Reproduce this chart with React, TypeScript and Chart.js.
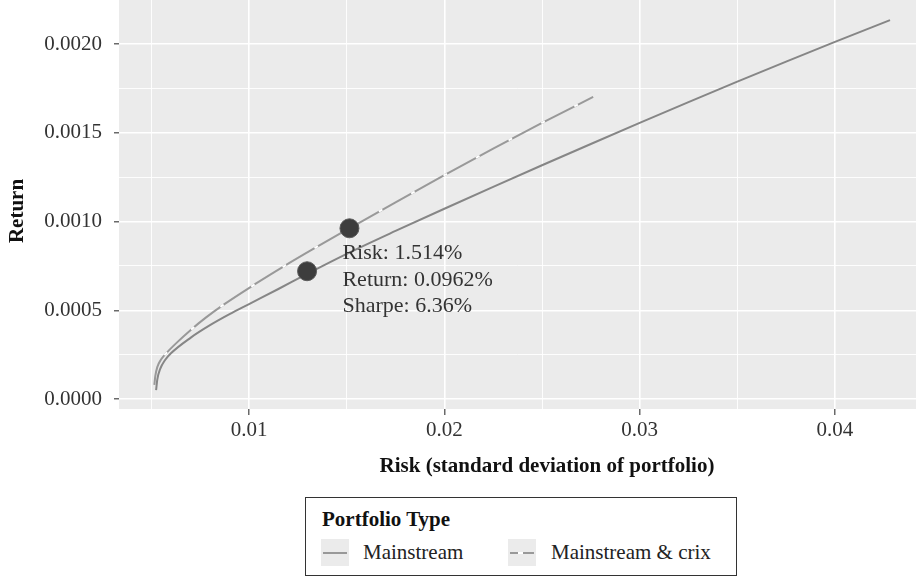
import React, { useEffect, useRef } from 'react';
import { Chart, registerables } from 'chart.js';

Chart.register(...registerables);

// ---- data ----
const mainstreamRisk = [0.00524, 0.0053, 0.00545, 0.0057, 0.006, 0.007, 0.008, 0.009, 0.01, 0.0115, 0.01297, 0.015, 0.0175, 0.02, 0.0225, 0.025, 0.0275, 0.03, 0.0325, 0.035, 0.0375, 0.04, 0.04282];
const mainstreamReturn = [0.00005, 0.00011, 0.00017, 0.00022, 0.000258, 0.000345, 0.000416, 0.000478, 0.000535, 0.00062, 0.000705, 0.000818, 0.000947, 0.001072, 0.001195, 0.001317, 0.001437, 0.001556, 0.001673, 0.001788, 0.001901, 0.002012, 0.002135];

const crixRisk = [0.00515, 0.0052, 0.0053, 0.0055, 0.0058, 0.0063, 0.007, 0.0078, 0.0087, 0.0103, 0.0118, 0.0132, 0.01514, 0.0175, 0.02, 0.0225, 0.025, 0.02762];
const crixReturn = [0.00008, 0.00013, 0.00018, 0.000224, 0.000263, 0.000318, 0.000388, 0.00046, 0.000532, 0.000647, 0.000749, 0.00084, 0.000962, 0.001108, 0.001261, 0.001411, 0.001556, 0.001702];

const optimalRisk = [0.01297, 0.01514];
const optimalReturn = [0.00072, 0.000962];

const annotationLines = ['Risk: 1.514%', 'Return: 0.0962%', 'Sharpe: 6.36%'];

const seriesNames = ['Mainstream', 'Mainstream & crix'];
const legendTitle = 'Portfolio Type';
const xTitle = 'Risk (standard deviation of portfolio)';
const yTitle = 'Return';

const xMajorTicks = [0.01, 0.02, 0.03, 0.04];
const xTickLabels = ['0.01', '0.02', '0.03', '0.04'];
const xMinorTicks = [0.005, 0.015, 0.025, 0.035];
const yMajorTicks = [0, 0.0005, 0.001, 0.0015, 0.002];
const yTickLabels = ['0.0000', '0.0005', '0.0010', '0.0015', '0.0020'];
const yMinorTicks = [0.00025, 0.00075, 0.00125, 0.00175];

const xMin = 0.00334;
const xMax = 0.04415;
const yMin = -0.000056;
const yMax = 0.002248;

const FONT = "'Liberation Serif', 'Times New Roman', serif";

const toPoints = (xs: number[], ys: number[]) => xs.map((x, i) => ({ x, y: ys[i] }));
const isIn = (v: number, arr: number[]) => arr.some((m) => Math.abs(m - v) < 1e-9);
const labelFor = (v: number, majors: number[], labels: string[]) => {
  const i = majors.findIndex((m) => Math.abs(m - v) < 1e-9);
  return i >= 0 ? labels[i] : '';
};

const panelPlugin = {
  id: 'panelBg',
  beforeDraw(chart: any) {
    const { ctx, chartArea: a } = chart;
    ctx.save();
    ctx.fillStyle = '#ffffff';
    ctx.fillRect(0, 0, chart.width, chart.height);
    ctx.fillStyle = '#EBEBEB';
    ctx.fillRect(a.left, a.top, a.right - a.left, a.bottom - a.top);
    ctx.restore();
  },
  afterDraw(chart: any) {
    const { ctx, chartArea: a, scales } = chart;
    ctx.save();
    // axis titles
    ctx.fillStyle = '#111';
    ctx.font = `bold 21px ${FONT}`;
    ctx.textAlign = 'center';
    ctx.textBaseline = 'middle';
    ctx.fillText(xTitle, 547, a.bottom + 58);
    ctx.save();
    ctx.translate(18, 211);
    ctx.rotate(-Math.PI / 2);
    ctx.fillText(yTitle, 0, 0);
    ctx.restore();
    // annotation next to the optimal crix portfolio
    const px = scales.x.getPixelForValue(optimalRisk[1]) - 7;
    const py = scales.y.getPixelForValue(optimalReturn[1]);
    ctx.fillStyle = '#333';
    ctx.font = `22px ${FONT}`;
    ctx.textAlign = 'left';
    annotationLines.forEach((t, i) => ctx.fillText(t, px, py + 25 + i * 26.5));
    ctx.restore();
  },
};

export default function App() {
  const ref = useRef<HTMLCanvasElement>(null);

  useEffect(() => {
    const xAll = [...xMajorTicks, ...xMinorTicks].sort((a, b) => a - b);
    const yAll = [...yMajorTicks, ...yMinorTicks].sort((a, b) => a - b);
    const chart = new Chart(ref.current as HTMLCanvasElement, {
      type: 'line',
      data: {
        datasets: [
          {
            label: 'optimal',
            data: toPoints(optimalRisk, optimalReturn),
            showLine: false,
            pointRadius: 9.5,
            pointBackgroundColor: '#3d3d3d',
            pointBorderColor: '#5c5c5c',
            pointBorderWidth: 1,
          },
          {
            label: 'crix-gaps',
            data: toPoints(crixRisk, crixReturn),
            borderColor: '#ffffff',
            borderWidth: 2,
            borderDash: [4, 33],
            borderDashOffset: 5,
            pointRadius: 0,
            cubicInterpolationMode: 'monotone',
          },
          {
            label: seriesNames[1],
            data: toPoints(crixRisk, crixReturn),
            borderColor: '#999999',
            borderWidth: 2,
            pointRadius: 0,
            cubicInterpolationMode: 'monotone',
          },
          {
            label: seriesNames[0],
            data: toPoints(mainstreamRisk, mainstreamReturn),
            borderColor: '#868686',
            borderWidth: 2,
            pointRadius: 0,
            cubicInterpolationMode: 'monotone',
          },
        ],
      } as any,
      options: {
        responsive: false,
        animation: false,
        devicePixelRatio: 1,
        layout: { padding: 0, autoPadding: false },
        plugins: { legend: { display: false }, tooltip: { enabled: false } },
        events: [],
        scales: {
          x: {
            type: 'linear',
            min: xMin,
            max: xMax,
            afterBuildTicks: (s: any) => {
              s.ticks = xAll.map((v) => ({ value: v }));
            },
            afterFit: (s: any) => {
              s.height = 168;
              s.paddingLeft = 0;
              s.paddingRight = 0;
            },
            ticks: {
              autoSkip: false,
              maxRotation: 0,
              padding: 3,
              color: '#333',
              font: { family: FONT, size: 21 },
              callback: (v: any) => labelFor(Number(v), xMajorTicks, xTickLabels),
            },
            grid: {
              color: '#ffffff',
              lineWidth: (c: any) => (isIn(c.tick.value, xMajorTicks) ? 1.6 : 0.9),
              tickColor: (c: any) => (isIn(c.tick.value, xMajorTicks) ? '#444' : 'rgba(0,0,0,0)'),
              tickLength: 6,
              tickWidth: 1.2,
            },
            border: { display: false },
          },
          y: {
            type: 'linear',
            min: yMin,
            max: yMax,
            afterBuildTicks: (s: any) => {
              s.ticks = yAll.map((v) => ({ value: v }));
            },
            afterFit: (s: any) => {
              s.width = 119;
              s.paddingTop = 0;
              s.paddingBottom = 0;
            },
            ticks: {
              autoSkip: false,
              padding: 12,
              color: '#333',
              font: { family: FONT, size: 21 },
              callback: (v: any) => labelFor(Number(v), yMajorTicks, yTickLabels),
            },
            grid: {
              color: '#ffffff',
              lineWidth: (c: any) => (isIn(c.tick.value, yMajorTicks) ? 1.6 : 0.9),
              tickColor: (c: any) => (isIn(c.tick.value, yMajorTicks) ? '#444' : 'rgba(0,0,0,0)'),
              tickLength: 5,
              tickWidth: 1.2,
            },
            border: { display: false },
          },
        },
      } as any,
      plugins: [panelPlugin],
    });
    return () => chart.destroy();
  }, []);

  const textStyle: React.CSSProperties = {
    position: 'absolute',
    fontFamily: FONT,
    fontSize: 21,
    lineHeight: '26px',
    color: '#222',
    whiteSpace: 'nowrap',
  };
  const keyStyle: React.CSSProperties = {
    position: 'absolute',
    top: 41,
    width: 28,
    height: 27,
    background: '#EBEBEB',
  };

  return (
    <div style={{ position: 'absolute', left: 0, top: 0, width: 916, height: 577, background: '#fff' }}>
      <canvas ref={ref} width={916} height={577} style={{ position: 'absolute', left: 0, top: 0, width: 916, height: 577 }} />
      <div
        style={{
          position: 'absolute',
          left: 305,
          top: 497,
          width: 432,
          height: 79,
          border: '1.3px solid #333',
          boxSizing: 'border-box',
          background: '#fff',
        }}
      >
        <div style={{ ...textStyle, left: 16, top: 8, fontWeight: 'bold', color: '#111' }}>{legendTitle}</div>
        <div style={{ ...keyStyle, left: 15 }}>
          <div style={{ position: 'absolute', left: 2, top: 13, width: 24, height: 2, background: '#999' }} />
        </div>
        <div style={{ ...textStyle, left: 57, top: 41 }}>{seriesNames[0]}</div>
        <div style={{ ...keyStyle, left: 202 }}>
          <div style={{ position: 'absolute', left: 2, top: 13, width: 8, height: 2, background: '#999' }} />
          <div style={{ position: 'absolute', left: 10, top: 13, width: 5, height: 2, background: '#fff' }} />
          <div style={{ position: 'absolute', left: 15, top: 13, width: 11, height: 2, background: '#999' }} />
        </div>
        <div style={{ ...textStyle, left: 245, top: 41 }}>{seriesNames[1]}</div>
      </div>
    </div>
  );
}
